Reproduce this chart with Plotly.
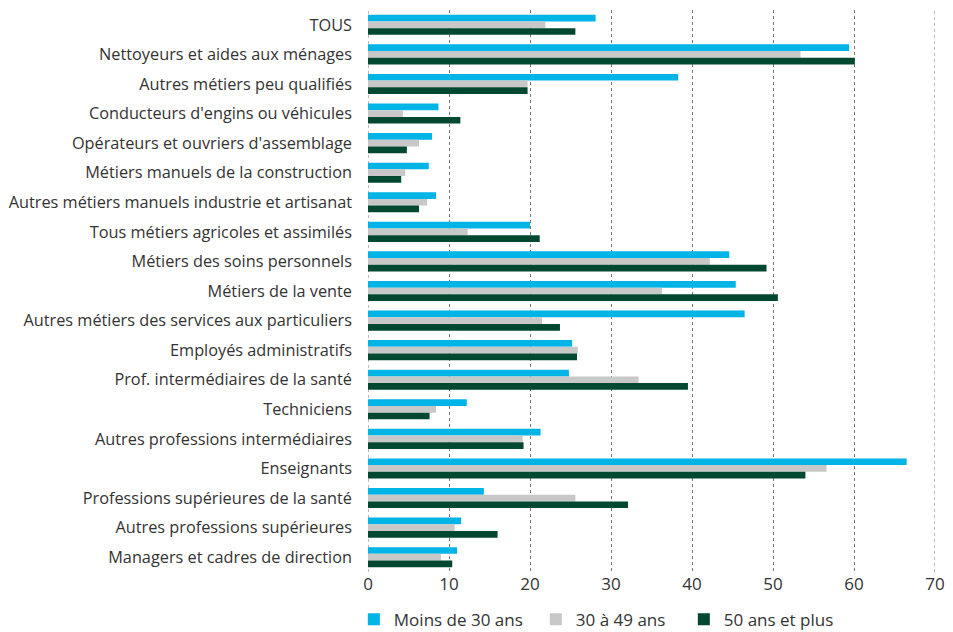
import plotly.graph_objects as go

categories = [
    "TOUS",
    "Nettoyeurs et aides aux ménages",
    "Autres métiers peu qualifiés",
    "Conducteurs d'engins ou véhicules",
    "Opérateurs et ouvriers d'assemblage",
    "Métiers manuels de la construction",
    "Autres métiers manuels industrie et artisanat",
    "Tous métiers agricoles et assimilés",
    "Métiers des soins personnels",
    "Métiers de la vente",
    "Autres métiers des services aux particuliers",
    "Employés administratifs",
    "Prof. intermédiaires de la santé",
    "Techniciens",
    "Autres professions intermédiaires",
    "Enseignants",
    "Professions supérieures de la santé",
    "Autres professions supérieures",
    "Managers et cadres de direction",
]

moins_30 = [28.1, 59.4, 38.3, 8.7, 7.9, 7.5, 8.4, 20.0, 44.6, 45.4,
            46.5, 25.2, 24.8, 12.2, 21.3, 66.5, 14.3, 11.5, 11.0]
de_30_49 = [21.9, 53.4, 19.7, 4.3, 6.3, 4.6, 7.3, 12.3, 42.2, 36.3,
            21.5, 25.9, 33.4, 8.4, 19.1, 56.6, 25.6, 10.7, 9.0]
plus_50 = [25.6, 60.1, 19.7, 11.4, 4.8, 4.1, 6.3, 21.2, 49.2, 50.6,
           23.7, 25.8, 39.5, 7.6, 19.2, 54.0, 32.1, 16.0, 10.4]

x_ticks = [0, 10, 20, 30, 40, 50, 60, 70]

series = [
    ("Moins de 30 ans", moins_30, "#00B4E6", "legend"),
    ("30 à 49 ans", de_30_49, "#C8C8C8", "legend2"),
    ("50 ans et plus", plus_50, "#00482F", "legend3"),
]

fig = go.Figure()
for name, vals, color, leg in series:
    fig.add_trace(go.Bar(
        y=categories, x=vals, name=name, orientation="h",
        marker=dict(color=color, line=dict(width=0)),
        legend=leg,
    ))

# plotly skips gridlines that sit on the plot edges, draw those two by hand
for xv in (x_ticks[0], x_ticks[-1]):
    fig.add_vline(x=xv, line=dict(color="#777777", width=1, dash="dot"), layer="below")

# one legend per series so the uneven spacing of the original can be kept
def legend_at(x):
    return dict(
        orientation="h", x=x, xanchor="left", y=-0.085, yanchor="middle",
        font=dict(size=17, color="#333333"), bgcolor="rgba(0,0,0,0)",
    )

# the page body adds an 8px margin, so the figure is sized to fit inside it
font_family = "Open Sans, Noto Sans, sans-serif"
fig.update_layout(
    width=945, height=624,
    barmode="group", bargap=0.32, bargroupgap=0,
    plot_bgcolor="white", paper_bgcolor="white",
    margin=dict(l=360, r=18, t=2, b=60, autoexpand=False),
    font=dict(family=font_family, size=16, color="#333333"),
    legend=legend_at(-0.025),
    legend2=legend_at(0.296),
    legend3=legend_at(0.557),
    showlegend=True,
)
fig.update_xaxes(
    range=[0, 70], tickvals=x_ticks,
    showgrid=True, gridcolor="#777777",
    griddash="dot", gridwidth=1, zeroline=False, showline=False,
    tickfont=dict(size=17, color="#333333"), ticks="",
)
fig.update_yaxes(
    autorange="reversed", showgrid=False, ticks="", ticklabelstandoff=15,
    tickfont=dict(size=16.3, color="#333333"), showline=False,
)

fig.write_html("out.html")
